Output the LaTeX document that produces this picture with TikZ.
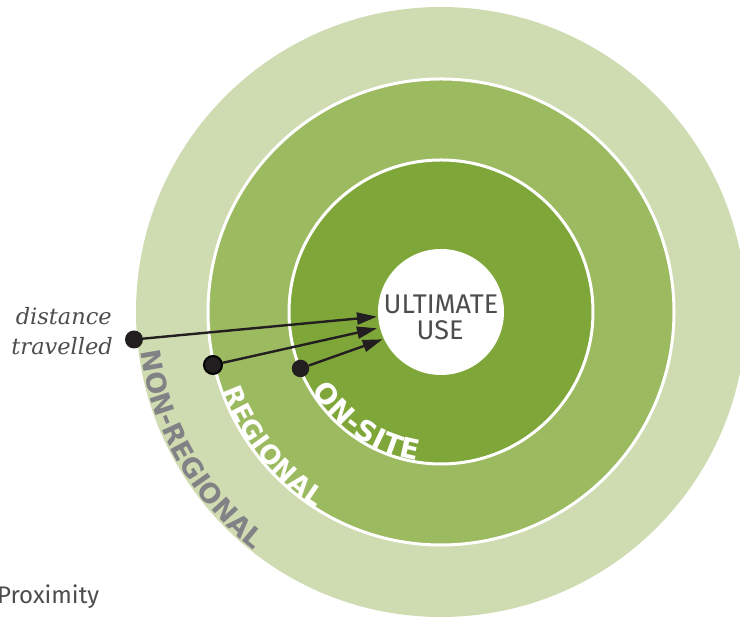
\documentclass[tikz,border=0pt]{standalone}
\usepackage{fontspec}
\setmainfont{Fira Sans}
\newfontfamily\serifit{DejaVu Serif}
\newfontfamily\labfont{DejaVu Sans}
\usetikzlibrary{arrows.meta,decorations.text}
\definecolor{ringA}{HTML}{CFDCB2}
\definecolor{ringB}{HTML}{9CBA60}
\definecolor{ringC}{HTML}{7FA638}
\definecolor{dotc}{HTML}{231F20}
\definecolor{txtgray}{HTML}{4D4D4F}
\definecolor{labgray}{HTML}{808285}
\begin{document}
\begin{tikzpicture}[x=1pt,y=1pt,
  ring/.style={circle, inner sep=0pt, draw=white, line width=3pt},
  dotnode/.style={circle, fill=dotc, inner sep=0pt},
  arr/.style={draw=dotc, line width=2.4pt, -{Triangle[length=20pt,width=12pt]}},
  maintext/.style={text=txtgray, inner sep=0pt, font=\fontsize{27}{27}\selectfont},
  proxtext/.style={text=txtgray, inner sep=0pt, font=\fontsize{24}{24}\selectfont},
  disttext/.style={text=txtgray, inner sep=0pt, font=\serifit\itshape\fontsize{22.5}{22.5}\selectfont}]
\useasboundingbox (0,0) rectangle (740,617);
\coordinate (C) at (441,305);
\node[circle, inner sep=0pt, fill=ringA, minimum size=610pt] (outer) at (C) {};
\node[ring, fill=ringB, minimum size=466pt] (regional) at (C) {};
\node[ring, fill=ringC, minimum size=304pt] (onsite) at (C) {};
\node[circle, inner sep=0pt, fill=white, minimum size=126pt] (core) at (C) {};
\node[maintext, anchor=base] (ult1) at (441,303) {ULTIMATE};
\node[maintext, anchor=base] (ult2) at (440,277.7) {USE};
% ring labels
\path[decorate, decoration={text along path, text align=center,
  text={|\labfont\bfseries\fontsize{27}{27}\selectfont\color{labgray}|NON-REGIONAL}}]
  ([shift={(169.7:303)}]C) arc[start angle=169.7, end angle=249.7, radius=303];
\path[decorate, decoration={text along path, text align=center,
  text={|\labfont\bfseries\fontsize{26}{26}\selectfont\color{white}|{R\kern0.5pt}{E\kern0.5pt}{G\kern0.5pt}{I\kern0.5pt}{O\kern0.5pt}{N\kern0.5pt}{A\kern0.5pt}{L}}}]
  ([shift={(178.6:231.5)}]C) arc[start angle=178.6, end angle=258.6, radius=231.5];
\path[decorate, decoration={text along path, text align=center,
  text={|\labfont\bfseries\fontsize{28}{28}\selectfont\color{white}|{O\kern0.5pt}{N\kern0.5pt}{-\kern0.5pt}{S\kern0.5pt}{I\kern0.5pt}{T\kern0.5pt}{E}}}]
  ([shift={(196.1:150.5)}]C) arc[start angle=196.1, end angle=276.1, radius=150.5];
% arrows
\coordinate (t1) at (377,300.3);
\coordinate (t2) at (377,288.7);
\coordinate (t3) at (382.7,277.7);
\node[dotnode, minimum size=18pt] (d1) at (134,277.5) {};
\node[dotnode, minimum size=18pt, draw=black, line width=2pt] (d2) at (213,252) {};
\node[dotnode, minimum size=17.5pt] (d3) at (300.5,248.5) {};
\draw[arr] (d1) -- (t1);
\draw[arr] (d2) -- (t2);
\draw[arr] (d3) -- (t3);
% texts
\node[disttext, anchor=base east] (dist1) at (112,292) {distance};
\node[disttext, anchor=base east] (dist2) at (113,262) {travelled};
\node[proxtext, anchor=base west] (prox) at (-3,13) {Proximity};
\end{tikzpicture}
\end{document}
